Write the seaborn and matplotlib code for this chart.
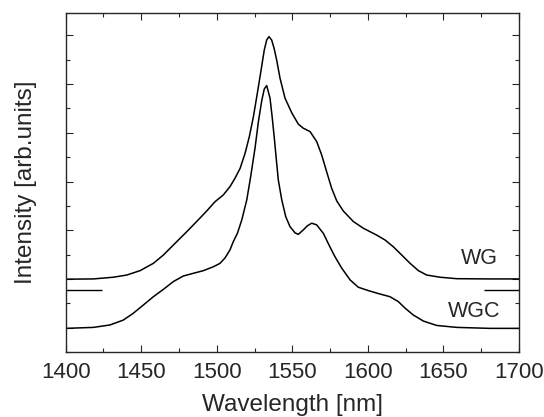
import matplotlib
matplotlib.use("Agg")
import matplotlib.pyplot as plt
from matplotlib.ticker import MultipleLocator
import pandas as pd
import seaborn as sns

# WG spectrum (nm, arb. units)
wg_nm = [1400, 1418.3, 1431.5, 1440.4, 1449.2, 1458.0, 1464.6, 1471.2, 1480.1,
         1486.7, 1493.3, 1498.8, 1504.3, 1508.7, 1512.0, 1515.4, 1518.7, 1521.5,
         1524.2, 1526.8, 1529.3, 1531.4, 1533.0, 1534.5, 1536.3, 1537.9, 1539.6,
         1541.8, 1545.1, 1549.6, 1553.9, 1557.2, 1561.7, 1566.1, 1569.4, 1572.7,
         1576.0, 1579.4, 1583.7, 1590.3, 1597.0, 1605.8, 1611.3, 1616.8, 1622.4,
         1627.9, 1633.4, 1638.9, 1647.7, 1658.8, 1680.8, 1700]
wg_int = [2.99, 3.00, 3.07, 3.16, 3.34, 3.64, 3.98, 4.39, 4.94,
          5.36, 5.79, 6.17, 6.45, 6.79, 7.13, 7.54, 8.16, 8.84,
          9.66, 10.62, 11.58, 12.40, 12.81, 12.95, 12.81, 12.47, 11.99,
          11.25, 10.43, 9.82, 9.36, 9.19, 9.05, 8.64, 8.09, 7.40,
          6.72, 6.20, 5.79, 5.36, 5.08, 4.80, 4.60, 4.32, 3.98,
          3.64, 3.34, 3.16, 3.07, 3.01, 3.00, 3.00]

# WGC spectrum
wgc_nm = [1400, 1418.3, 1429.3, 1438.1, 1444.7, 1451.4, 1458.0, 1464.6, 1471.2,
          1477.8, 1484.4, 1491.1, 1497.7, 1502.1, 1505.4, 1508.7, 1510.9, 1513.6,
          1516.5, 1519.8, 1522.4, 1525.3, 1527.5, 1529.7, 1531.4, 1533.0, 1535.2,
          1536.7, 1538.1, 1539.4, 1540.7, 1543.0, 1545.6, 1548.4, 1551.8, 1553.9,
          1557.2, 1559.7, 1562.8, 1566.1, 1570.5, 1574.9, 1578.2, 1582.7, 1588.2,
          1593.6, 1600.3, 1608.0, 1614.6, 1620.1, 1624.6, 1630.0, 1636.7, 1645.5,
          1658.8, 1680.8, 1700]
wgc_int = [0.97, 1.01, 1.11, 1.31, 1.59, 1.93, 2.27, 2.57, 2.89,
           3.12, 3.23, 3.34, 3.50, 3.64, 3.86, 4.19, 4.53, 4.87,
           5.42, 6.24, 7.20, 8.38, 9.45, 10.31, 10.80, 10.94, 10.43,
           9.61, 8.75, 7.89, 7.06, 6.24, 5.56, 5.15, 4.89, 4.83,
           5.01, 5.17, 5.29, 5.22, 4.87, 4.31, 3.91, 3.44, 2.96,
           2.66, 2.52, 2.38, 2.27, 2.07, 1.80, 1.52, 1.27, 1.09,
           1.01, 0.97, 0.97]

# short marks at both edges between the two curves
seg_y = 2.53
seg_left = [1400, 1423.8]
seg_right = [1677.0, 1700]

labels = ["WG", "WGC"]
label_pos = [(1686, 3.85), (1688, 1.68)]

df = pd.concat([
    pd.DataFrame({"nm": wg_nm, "I": wg_int, "s": "WG"}),
    pd.DataFrame({"nm": wgc_nm, "I": wgc_int, "s": "WGC"}),
])

sns.set_style("ticks")
plt.rcParams['font.family'] = ['Liberation Sans', 'DejaVu Sans']

fig = plt.figure(figsize=(5.44, 4.17), dpi=100)
ax = fig.add_axes([0.1208, 0.1559, 0.8333, 0.8129])

sns.lineplot(data=df, x="nm", y="I", units="s", estimator=None, color="black",
             linewidth=1.1, ax=ax, sort=False)
ax.hlines([seg_y, seg_y], [seg_left[0], seg_right[0]], [seg_left[1], seg_right[1]],
          color="black", linewidth=1.0)

ax.set_xlim(1400, 1700)
ax.set_ylim(0, 13.92)
ax.xaxis.set_major_locator(MultipleLocator(50))
ax.xaxis.set_minor_locator(MultipleLocator(25))
ax.yaxis.set_major_locator(MultipleLocator(2, offset=1))
ax.yaxis.set_minor_locator(MultipleLocator(1))
ax.tick_params(which="both", direction="in", top=True, right=True, width=0.8)
ax.tick_params(which="major", length=5, labelsize=16, pad=7.5)
ax.tick_params(which="minor", length=3)
ax.tick_params(axis="y", which="both", labelleft=False)
for sp in ax.spines.values():
    sp.set_linewidth(1.0)

ax.set_xlabel("Wavelength [nm]", fontsize=17.5)
ax.set_ylabel("Intensity [arb.units]", fontsize=17.5)
ax.xaxis.set_label_coords(0.5, -0.125)
ax.yaxis.set_label_coords(-0.063, 0.5)

for name, (lx, ly) in zip(labels, label_pos):
    ax.text(lx, ly, name, fontsize=15.5, ha="right", va="center")

fig.savefig("out.png", dpi=100)
